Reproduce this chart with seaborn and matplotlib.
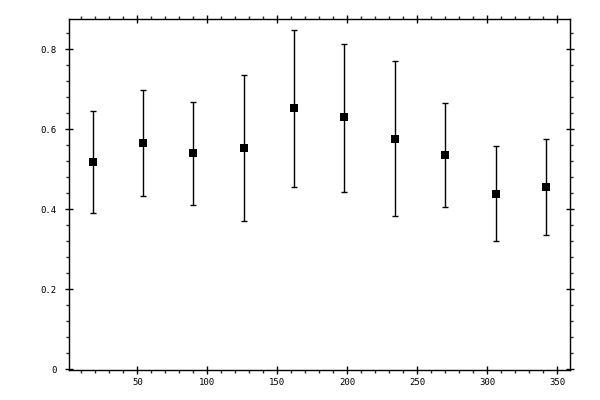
import matplotlib
matplotlib.use("Agg")
import matplotlib.pyplot as plt
import seaborn as sns
import numpy as np
import pandas as pd
from matplotlib.ticker import MultipleLocator

angle = [18, 54, 90, 126, 162, 198, 234, 270, 306, 342]
value = [0.5175, 0.565, 0.540, 0.5525, 0.6525, 0.630, 0.575, 0.535, 0.4375, 0.455]
upper = [0.646, 0.6975, 0.6675, 0.735, 0.8475, 0.814, 0.770, 0.665, 0.5575, 0.576]
lower = [0.390, 0.4325, 0.410, 0.370, 0.455, 0.4425, 0.3825, 0.405, 0.320, 0.335]

df = pd.DataFrame({"angle": angle, "value": value, "upper": upper, "lower": lower})

sns.set_style("ticks")
plt.rcParams['font.family'] = ['DejaVu Sans Mono', 'DejaVu Sans']

fig = plt.figure(figsize=(6, 4), dpi=100)
ax = fig.add_axes([69/600, 30/400, 501/600, 351/400])

yerr = np.vstack([df["value"] - df["lower"], df["upper"] - df["value"]])
ax.errorbar(df["angle"], df["value"], yerr=yerr, fmt="none", ecolor="black",
            elinewidth=1.0, capsize=2.2, capthick=1.0, zorder=2)
sns.scatterplot(data=df, x="angle", y="value", marker="s", color="black",
                s=30, edgecolor="black", linewidth=0, ax=ax, zorder=3)

ax.set_xlim(1.2, 359.2)
ax.set_ylim(-0.002, 0.876)
ax.set_xlabel("")
ax.set_ylabel("")

ax.xaxis.set_major_locator(MultipleLocator(50))
ax.xaxis.set_minor_locator(MultipleLocator(10))
ax.yaxis.set_major_locator(MultipleLocator(0.2))
ax.yaxis.set_minor_locator(MultipleLocator(0.04))
ax.set_xticks([50, 100, 150, 200, 250, 300, 350])
ax.set_xticklabels(["50", "100", "150", "200", "250", "300", "350"])
ax.set_yticks([0, 0.2, 0.4, 0.6, 0.8])
ax.set_yticklabels(["0", "0.2", "0.4", "0.6", "0.8"])

for s in ax.spines.values():
    s.set_visible(True)
    s.set_linewidth(1.0)
    s.set_color("black")

ax.tick_params(which="major", direction="inout", length=6, width=1.0,
               top=True, right=True, labeltop=False, labelright=False,
               labelsize=6.5, colors="black")
ax.tick_params(which="minor", direction="out", length=2.3, width=1.0,
               top=True, right=True)
ax.tick_params(axis="y", which="major", pad=6)
ax.tick_params(axis="x", which="major", pad=3)

fig.savefig("out.png", dpi=100)
